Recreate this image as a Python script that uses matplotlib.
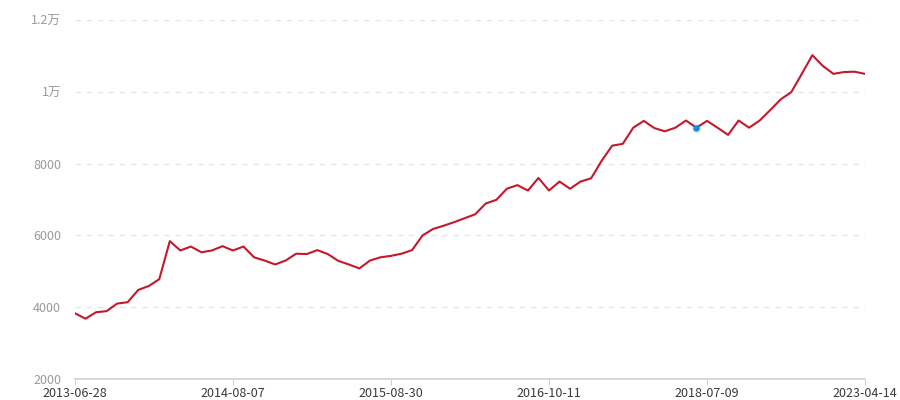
import matplotlib
matplotlib.use('Agg')
import matplotlib.pyplot as plt
from matplotlib.ticker import FuncFormatter

plt.rcParams['font.family'] = ['Noto Sans CJK SC', 'DejaVu Sans']

# values, one per period (76 points)
values = [
    3830, 3680, 3860, 3890, 4100, 4140, 4480, 4590, 4780, 5840,
    5580, 5690, 5530, 5580, 5700, 5580, 5690, 5390, 5300, 5190,
    5300, 5490, 5480, 5590, 5480, 5290, 5190, 5080, 5300, 5390,
    5430, 5490, 5590, 6000, 6180, 6270, 6370, 6480, 6590, 6890,
    6990, 7300, 7400, 7250, 7600, 7250, 7500, 7300, 7500, 7590,
    8080, 8500, 8550, 9000, 9190, 8990, 8900, 9000, 9200, 9000,
    9190, 9000, 8800, 9200, 9000, 9200, 9490, 9790, 9990, 10500,
    11020, 10720, 10500, 10550, 10560, 10500,
]
tick_index = [0, 15, 30, 45, 60, 75]
tick_labels = ['2013-06-28', '2014-08-07', '2015-08-30', '2016-10-11', '2018-07-09', '2023-04-14']
y_ticks = [2000, 4000, 6000, 8000, 10000, 12000]
highlight = 59

fig = plt.figure(figsize=(9, 4), dpi=100)
ax = fig.add_axes([75 / 900, 1 - 379 / 400, 790 / 900, 359 / 400])

x = list(range(len(values)))
ax.plot(x, values, color='#c4182b', linewidth=1.5, zorder=3)
ax.scatter([highlight], [values[highlight]], s=60, color='#1e88e5', alpha=0.08, zorder=4, linewidths=0)
ax.scatter([highlight], [values[highlight]], s=22, color='#1e88e5', zorder=5, linewidths=0)

ax.set_xlim(0, len(values) - 1)
ax.set_ylim(2000, 12000)
ax.set_yticks(y_ticks)


def fmt(v, pos):
    if v >= 10000:
        s = f'{v / 10000:.1f}'.rstrip('0').rstrip('.')
        return s + '万'
    return f'{int(v)}'


ax.yaxis.set_major_formatter(FuncFormatter(fmt))
ax.set_xticks(tick_index)
ax.set_xticklabels(tick_labels)

ax.grid(axis='y', linestyle=(0, (4, 4)), color='#e6e6e6', linewidth=1)
ax.set_axisbelow(True)
for s in ['top', 'right', 'left']:
    ax.spines[s].set_visible(False)
ax.spines['bottom'].set_color('#d0d0d0')
ax.spines['bottom'].set_linewidth(1.2)

ax.tick_params(axis='y', length=0, pad=10, labelsize=9, labelcolor='#9a9a9a')
ax.tick_params(axis='x', length=4, color='#d0d0d0', pad=2, labelsize=9, labelcolor='#3a3a3a')

fig.savefig('out.png', dpi=100, facecolor='white')
